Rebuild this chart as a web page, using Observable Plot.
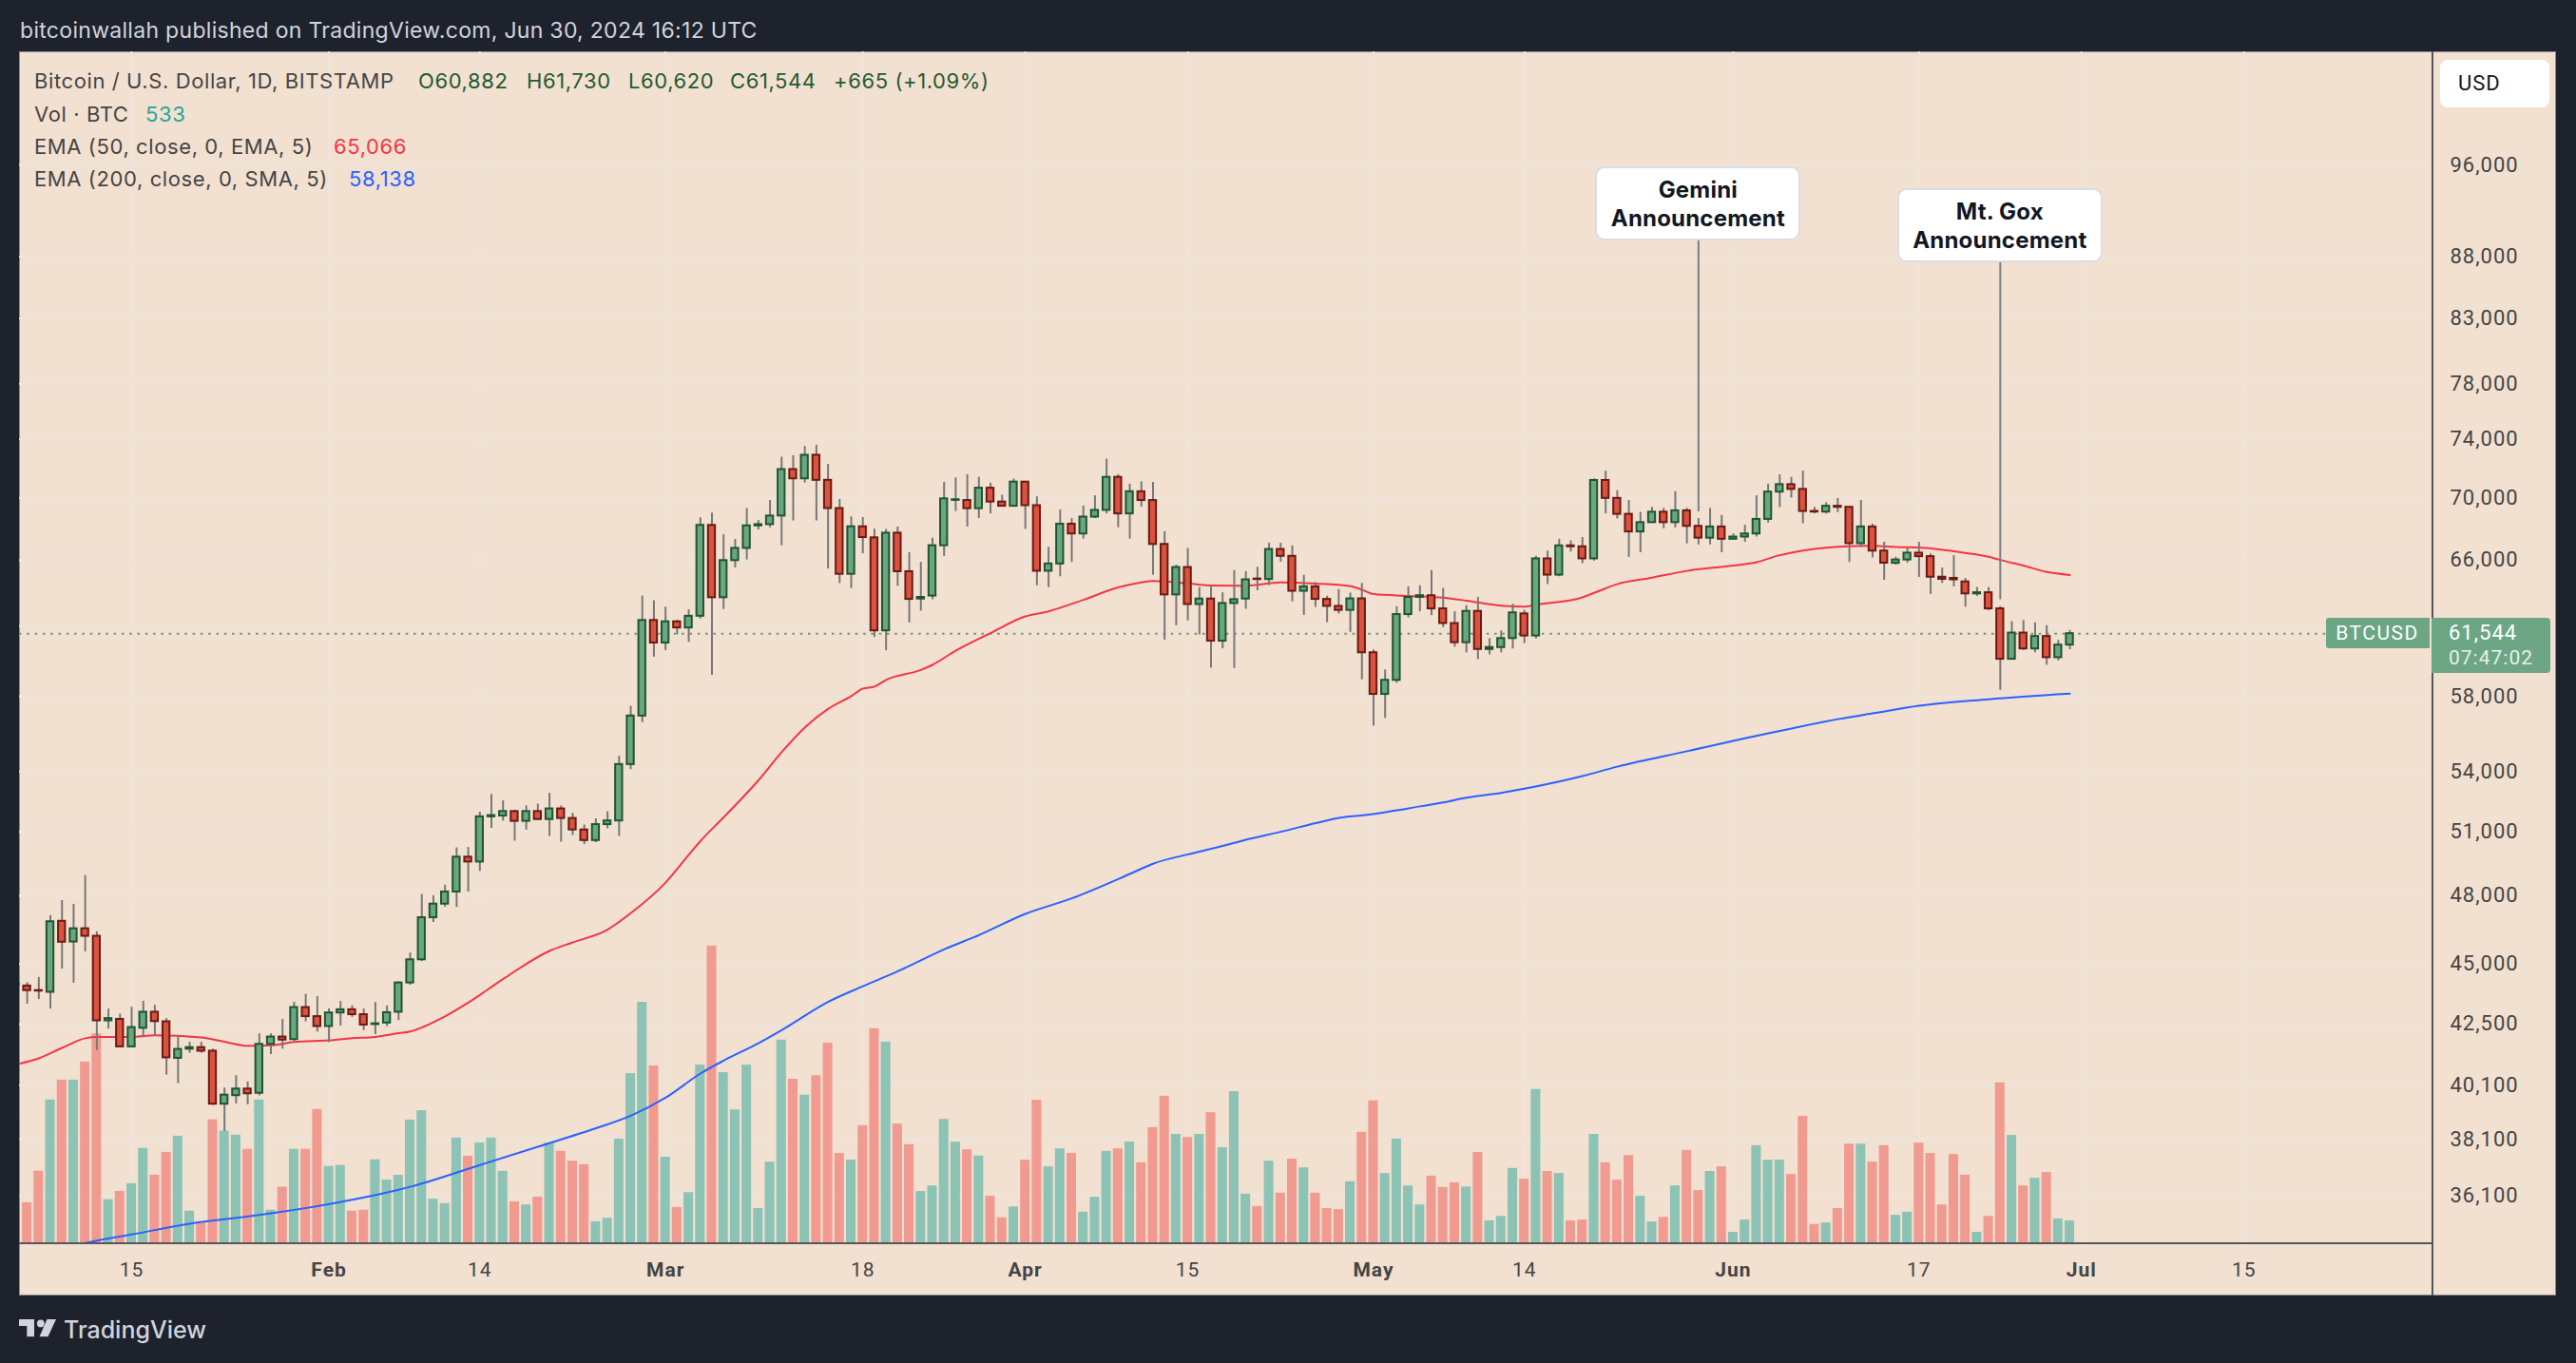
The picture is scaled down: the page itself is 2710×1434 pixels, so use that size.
<!DOCTYPE html>
<html>
<head>
<meta charset="utf-8">
<script src="https://cdn.jsdelivr.net/npm/d3@7"></script>
<script src="https://cdn.jsdelivr.net/npm/@observablehq/plot@0.6"></script>
<style>
  html, body { margin:0; padding:0; background:#1e222d; }
  #page { position:relative; width:2710px; height:1434px; background:#1e222d; overflow:hidden; font-family: Roboto, "Noto Sans", sans-serif; }
  #chart { position:absolute; left:20px; top:54px; width:2669px; height:1309px; background:#f2e0d0; box-shadow: inset 0 0 0 1px #8b8d94; }
  #chart > svg { position:absolute; left:0; top:0; }
  .t { position:absolute; white-space:nowrap; line-height:1; }
  .ybox text { letter-spacing: 1px; }
  .anno { position:absolute; box-sizing:border-box; width:216px; height:78px; background:#ffffff; border:2px solid #dadde4; border-radius:10px;
          font-family: Inter, Roboto, sans-serif; font-weight:700; font-size:24px; color:#131722; text-align:center; line-height:30px; padding-top:8px; letter-spacing:0.2px; }
</style>
</head>
<body>
<div id="page">
  <div id="chart"></div>
</div>
<script>
// ---------------- DATA (BTC/USD daily, Bitstamp) ----------------
const firstDay = "2024-01-05";
const endDay = "2024-07-01"; // exclusive

const open = [
  44150,44060,43870,43800,46850,45940,46520,46190,42630,42690,41590,42330,42980,42590,41140,41500,41560,41420,39390,39710,39960,39800,41690,41980,41880,43170,42800,
  42400,42950,43080,42880,42480,42540,42980,44190,45170,47010,47620,48170,49790,49560,51730,51770,51990,51510,51990,51600,52120,51650,51090,50580,51350,51530,54360,56920,62320,
  61000,62240,61880,62570,68200,63680,65960,66730,68170,68250,68810,71910,71280,72890,71180,69300,65110,68110,67400,61710,67700,65270,63600,63780,66900,69840,69830,69290,70650,69730,69450,
  71060,69490,65300,65750,68280,67650,68740,69180,71380,68950,70410,69830,66980,63850,65530,63270,63600,61110,63330,63600,64820,64790,66660,66230,64070,64340,63580,63160,62920,63610,
  60440,58100,58880,62670,63700,63800,63010,62140,61020,62860,60630,60740,61260,62710,61410,66070,65060,66890,66830,66070,71170,69970,68920,67780,68380,69060,68380,69150,68140,67380,68100,
  67310,67450,67650,68590,70390,70890,70570,69110,69070,69450,69380,67030,68100,66560,65790,66000,66430,66210,64930,64860,64640,63910,63980,63010,60070,61580,60660,61380,60160,60882
];
const high = [
  44300,44200,44420,47100,47780,47610,48930,46390,43110,42900,43180,43430,43260,42720,42020,41770,41770,41500,40000,40470,40230,42110,42110,42690,43390,43720,43620,
  43120,43420,43240,43110,43380,43240,44240,45460,48060,48000,48480,50230,50250,51960,52840,52520,52060,52270,52360,52900,52270,51910,51330,51630,51980,54790,57450,63780,63500,
  63110,62340,62950,68700,69000,67600,67300,69300,68520,69830,72760,72860,73500,73580,72260,69900,68750,68710,67960,67940,68100,66460,65850,67380,71040,71340,71560,71380,70990,70170,71260,
  71100,70070,66790,69200,68640,69460,70140,72620,71560,70920,71080,71040,67790,65680,66730,64290,64420,63980,65340,65280,65550,67050,67050,66890,65050,64610,63770,64170,63960,64550,
  60610,59460,63140,64340,64410,65340,64250,62840,63200,63700,61260,61700,63290,62920,66230,66560,67310,67210,67420,71280,71800,70480,69830,69050,69380,69310,70410,69310,68650,69310,68850,
  67650,68210,70140,70920,71550,71380,71800,69380,69680,69960,69380,69830,68280,67120,66170,66730,67120,66390,65500,66270,64860,64300,64300,63150,62250,62310,62180,62020,61150,61730
];
const low = [
  42700,43310,43500,43110,44780,44180,45510,41440,42300,41580,41580,41950,42020,40490,40170,41340,41340,39340,38380,39400,39370,39700,41290,41500,41760,42590,42180,
  41760,42420,42770,42240,42080,42400,42640,44100,45100,46800,47480,47470,48170,49120,51170,51520,50550,51080,51550,50780,50500,50820,50390,50480,51150,50780,54100,56560,60190,
  60560,61480,61040,62400,59160,62970,65500,66000,67900,68050,66900,68490,71000,68490,65440,64540,64240,66390,61320,60560,64380,62180,62880,63560,66220,69110,68100,68650,68950,69400,69400,
  67940,64410,64300,64960,65850,67320,68650,68950,68050,67320,69400,65050,61170,62010,62290,61470,59570,60670,59550,62990,64100,64420,65860,63440,62620,63100,62190,62700,61620,58910,
  56380,56790,58720,62470,62830,62610,61900,60760,60430,60050,60320,60440,60660,60970,61240,64480,64960,66500,65770,65930,68960,68620,66170,66460,68350,67980,68040,67020,66950,66950,66460,
  67280,67120,67450,68350,69370,69990,68310,68950,68950,69040,65850,66790,66130,64740,65680,65800,64920,63880,64550,64340,63110,63750,62900,58330,60070,60570,60440,59730,59980,60620
];
const close = [
  44100,43870,43850,46830,45930,46520,46190,42630,42720,41590,42360,42980,42600,41160,41490,41560,41420,39390,39730,39960,39780,41690,41980,41860,43170,42800,42400,
  42950,43080,42880,42460,42510,42960,44190,45170,47010,47620,48170,49790,49560,51730,51790,51990,51510,51990,51600,52120,51650,51090,50580,51350,51530,54360,56920,62320,61000,
  62240,61880,62570,68200,63680,65960,66730,68170,68250,68810,71910,71280,72890,71180,69300,65110,68110,67420,61710,67700,65270,63580,63700,66900,69940,69880,69290,70650,69730,69450,71060,
  69490,65300,65750,68280,67650,68740,69180,71380,68950,70410,69830,66980,63850,65530,63270,63600,61110,63330,63560,64770,64790,66660,66230,64070,64340,63580,63160,62920,63610,60440,
  58100,58880,62670,63700,63800,63010,62140,61020,62860,60630,60740,61260,62770,61410,66070,65060,66890,66830,66070,71170,69970,68920,67780,68380,69060,68380,69150,68140,67380,68100,67310,
  67450,67650,68590,70390,70890,70570,69110,69070,69450,69380,67030,68100,66560,65800,66000,66430,66210,64930,64800,64770,63910,63980,63010,60070,61580,60660,61380,60160,60882,61544
];
const volume = [
  3013,957,1694,3357,3821,3821,4242,4902,1028,1223,1403,2227,1601,2133,2511,761,502,2895,2628,2533,2204,3357,784,1319,2204,2204,3137,
  1805,1827,761,784,1960,1487,1598,2888,3106,1039,937,2466,2042,2351,2466,1689,977,906,1090,2351,2156,1927,1845,513,595,2444,3974,5639,4151,
  2020,844,1194,4171,6951,3996,3126,4171,821,1905,4755,3841,3468,3925,4684,2107,1951,2757,5022,4709,2795,2313,1219,1350,2902,2373,2193,2049,1110,604,857,
  1951,3348,1796,2216,2107,737,1086,2156,2216,2373,1891,2711,3443,2553,2482,2553,3059,2240,3552,1157,868,1927,1181,1976,1772,1181,821,797,1447,2602,
  3337,1638,2444,1350,904,1578,1314,1423,1325,2131,533,639,1758,1505,3601,1687,1641,533,555,2553,1891,1483,2060,1110,508,615,1350,2180,1241,1687,1796,
  266,555,2289,1951,1951,1616,2975,448,484,821,2324,2324,1905,2289,664,737,2349,2107,904,2085,1603,266,639,3756,2529,1350,1530,1663,579,533
];

const ema50Dates = ["2024-01-05","2024-01-07","2024-01-09","2024-01-11","2024-01-12","2024-01-15","2024-01-17","2024-01-21","2024-01-23","2024-01-25","2024-01-27","2024-01-29",
  "2024-02-01","2024-02-03","2024-02-05","2024-02-07","2024-02-08","2024-02-11","2024-02-13","2024-02-16","2024-02-20","2024-02-22","2024-02-25","2024-02-27",
  "2024-03-01","2024-03-03","2024-03-04","2024-03-06","2024-03-09","2024-03-11","2024-03-13","2024-03-15","2024-03-17","2024-03-18","2024-03-19","2024-03-20","2024-03-23","2024-03-24","2024-03-26","2024-03-29",
  "2024-04-01","2024-04-03","2024-04-06","2024-04-09","2024-04-11","2024-04-12","2024-04-15","2024-04-17","2024-04-20","2024-04-23","2024-04-26","2024-04-29","2024-04-30",
  "2024-05-01","2024-05-04","2024-05-07","2024-05-09","2024-05-12","2024-05-14","2024-05-15","2024-05-19","2024-05-21","2024-05-22","2024-05-25","2024-05-28",
  "2024-06-01","2024-06-03","2024-06-05","2024-06-06","2024-06-10","2024-06-13","2024-06-15","2024-06-17","2024-06-20","2024-06-23","2024-06-24","2024-06-26","2024-06-28","2024-06-30"];
const ema50Values = [40900,41140,41550,41930,41985,41985,42050,41960,41790,41630,41650,41780,
  41850,41930,41985,42130,42200,42810,43370,44350,45550,45920,46480,47210,
  48600,49900,50550,51700,53550,55000,56300,57300,58000,58420,58530,58900,59460,59750,60560,61580,
  62560,62860,63550,64300,64610,64700,64550,64420,64410,64610,64540,64380,64170,
  63900,63790,63680,63500,63200,63140,63250,63700,64250,64500,64900,65320,
  65650,65860,66300,66460,66830,66890,66820,66790,66540,66200,66000,65650,65250,65066];

const ema200Dates = ["2024-01-10","2024-01-11","2024-01-15","2024-01-20","2024-01-26","2024-01-31","2024-02-07","2024-02-08","2024-02-14","2024-02-19","2024-02-24","2024-02-27",
  "2024-03-01","2024-03-04","2024-03-06","2024-03-09","2024-03-11","2024-03-15","2024-03-18","2024-03-21","2024-03-25","2024-03-28",
  "2024-04-01","2024-04-05","2024-04-10","2024-04-12","2024-04-15","2024-04-18","2024-04-20","2024-04-23","2024-04-26","2024-04-28",
  "2024-05-01","2024-05-04","2024-05-07","2024-05-09","2024-05-12","2024-05-14","2024-05-19","2024-05-22","2024-05-28",
  "2024-06-02","2024-06-05","2024-06-10","2024-06-13","2024-06-17","2024-06-23","2024-06-30"];
const ema200Values = [34420,34520,34810,35170,35460,35760,36320,36420,37180,37830,38500,38960,
  39630,40550,41050,41730,42250,43400,44050,44680,45620,46240,
  47180,47880,49000,49480,49920,50320,50620,51000,51420,51680,
  51860,52150,52440,52680,52920,53130,53770,54250,55050,
  55730,56120,56750,57060,57480,57830,58138];

// price grid levels; the 62,000 label is hidden behind the last-price tag in the original
const priceTicks = [36100,38100,40100,42500,45000,48000,51000,54000,58000,62000,66000,70000,74000,78000,83000,88000,96000];
const hiddenPriceLabels = [62000];
const monthTicks = ["2024-02-01","2024-03-01","2024-04-01","2024-05-01","2024-06-01","2024-07-01"];
const dayTicks = ["2024-01-15","2024-02-14","2024-03-18","2024-04-15","2024-05-14","2024-06-17","2024-07-15"];

const annotationLines = [["Gemini","Announcement"],["Mt. Gox","Announcement"]];
const annotationDates = ["2024-05-29","2024-06-24"];
const annotationAnchor = [69080, 63550];

const legendOHLC = {o: "60,882", h: "61,730", l: "60,620", c: "61,544", chg: "+665 (+1.09%)"};
const legendVol = "533", legendEma50 = "65,066", legendEma200 = "58,138";

// ---------------- BUILD ----------------
const DAY = 864e5;
const shift = (d, k) => new Date(+d + k * DAY);
const days = d3.utcDay.range(new Date(firstDay), new Date(endDay));
const candles = days.map((date, i) => ({date, open: open[i], high: high[i], low: low[i], close: close[i], volume: volume[i]}));
const up = candles.filter(d => d.close >= d.open);
const down = candles.filter(d => d.close < d.open);
const ema50 = ema50Dates.map((d, i) => ({date: new Date(d), value: ema50Values[i]}));
const ema200 = ema200Dates.map((d, i) => ({date: new Date(d), value: ema200Values[i]}));
const lastClose = close[close.length - 1];

const W = 2669, H = 1309, MR = 130, MB = 55;
const ref = Date.UTC(2024, 0, 15);
const xDomain = [new Date(ref - 9.664 * DAY), new Date(ref + 198.28 * DAY)];
const yDomain = [34507, 106871];
const GRID = "#ece5de";
const common = {
  width: W, height: H, marginLeft: 0, marginRight: MR, marginTop: 0, marginBottom: MB,
  style: {background: "transparent", maxWidth: "none", fontFamily: "Roboto, sans-serif", color: "#3f3f3f", overflow: "visible"}
};
const yS = Plot.scale({y: {type: "log", domain: yDomain, range: [H - MB, 0]}});

const boxTops = [175, 198], boxH = 78, chartTop = 54;
const annotations = annotationDates.map((d, i) => ({
  date: new Date(d), anchor: annotationAnchor[i], top: yS.invert(boxTops[i] + boxH - chartTop)
}));

const gridPlot = Plot.plot({
  ...common,
  x: {type: "utc", domain: xDomain, axis: null},
  y: {type: "log", domain: yDomain, axis: null},
  marks: [
    Plot.gridX([...monthTicks, ...dayTicks].map(d => new Date(d)), {stroke: GRID, strokeOpacity: 1, strokeWidth: 2}),
    Plot.gridY(priceTicks, {stroke: GRID, strokeOpacity: 1, strokeWidth: 2}),
    Plot.axisY(priceTicks.filter(v => !hiddenPriceLabels.includes(v)), {anchor: "right", tickSize: 0, tickPadding: 18, tickFormat: d3.format(","), fontSize: 22, textAnchor: "start", label: null, fill: "#444444"}),
    Plot.axisX(dayTicks.map(d => new Date(d)), {tickSize: 0, tickPadding: 20, tickFormat: d => String(d.getUTCDate()), fontSize: 21, label: null, fill: "#444444"}),
    Plot.axisX(monthTicks.map(d => new Date(d)), {tickSize: 0, tickPadding: 20, tickFormat: d3.utcFormat("%b"), fontSize: 21, fontWeight: "bold", label: null, fill: "#444444"})
  ]
});
gridPlot.classList.add("ybox");

const volPlot = Plot.plot({
  ...common,
  x: {type: "utc", domain: xDomain, axis: null},
  y: {domain: [0, 27840], axis: null},
  marks: [
    Plot.rect(up, {x1: d => shift(d.date, -0.41), x2: d => shift(d.date, 0.41), y1: 0, y2: "volume", fill: "#26a69a", fillOpacity: 0.5, clip: true}),
    Plot.rect(down, {x1: d => shift(d.date, -0.41), x2: d => shift(d.date, 0.41), y1: 0, y2: "volume", fill: "#ef5350", fillOpacity: 0.5, clip: true})
  ]
});

const mainPlot = Plot.plot({
  ...common,
  x: {type: "utc", domain: xDomain, axis: null},
  y: {type: "log", domain: yDomain, axis: null},
  marks: [
    Plot.ruleY([lastClose], {stroke: "#5f9d78", strokeWidth: 2, strokeDasharray: "2.5,5.8"}),
    Plot.line(ema200, {x: "date", y: "value", stroke: "#2962ff", strokeWidth: 2, curve: "monotone-x", clip: true}),
    Plot.line(ema50, {x: "date", y: "value", stroke: "#f23645", strokeWidth: 2, curve: "monotone-x", clip: true}),
    Plot.ruleX(annotations, {x: "date", y1: "anchor", y2: "top", stroke: "#7b7e88", strokeWidth: 2}),
    Plot.ruleX(candles, {x: "date", y1: "low", y2: "high", stroke: "#787878", strokeWidth: 2, clip: true}),
    Plot.rect(up, {x1: d => shift(d.date, -0.3), x2: d => shift(d.date, 0.3), y1: "open", y2: "close", fill: "#6aa680", stroke: "#1e5632", strokeWidth: 2, clip: true}),
    Plot.rect(down, {x1: d => shift(d.date, -0.3), x2: d => shift(d.date, 0.3), y1: "open", y2: "close", fill: "#d9533f", stroke: "#6b1a14", strokeWidth: 2, clip: true})
  ]
});

const chart = document.getElementById("chart");
chart.appendChild(gridPlot);
chart.appendChild(volPlot);
chart.appendChild(mainPlot);

// ---------------- CHROME / TEXT ----------------
const page = document.getElementById("page");
function txt(s, x, yc, o = {}) {
  const el = document.createElement("div");
  el.className = "t";
  el.textContent = s;
  el.style.left = x + "px";
  el.style.top = yc + "px";
  el.style.fontSize = (o.size || 22) + "px";
  el.style.color = o.color || "#434343";
  el.style.fontFamily = o.family || "Roboto, sans-serif";
  if (o.weight) el.style.fontWeight = o.weight;
  if (o.ls) el.style.letterSpacing = o.ls;
  el.style.transform = o.center ? "translate(-50%,-50%)" : "translateY(-50%)";
  (o.parent || page).appendChild(el);
  return el;
}
function box(x, y, w, h, bg, extra = {}) {
  const el = document.createElement("div");
  el.style.position = "absolute";
  el.style.left = x + "px"; el.style.top = y + "px";
  el.style.width = w + "px"; el.style.height = h + "px";
  el.style.background = bg;
  Object.assign(el.style, extra);
  page.appendChild(el);
  return el;
}

const UI = "Inter, Roboto, sans-serif";
// header
txt("bitcoinwallah published on TradingView.com, Jun 30, 2024 16:12 UTC", 21, 32, {size: 23, color: "#d1d4dc", family: UI, ls: "0.3px"});

// separators
box(2558, 54, 2, 1309, "#55575c");
box(20, 1307, 2539, 2, "#55575c");

// legend
const GREEN = "#1f5a31", GRAYT = "#454545";
const L = {family: UI, ls: "0.6px"};
txt("Bitcoin / U.S. Dollar, 1D, BITSTAMP", 36, 85, {...L, color: GRAYT});
txt("O" + legendOHLC.o, 440, 85, {...L, color: GREEN});
txt("H" + legendOHLC.h, 554, 85, {...L, color: GREEN});
txt("L" + legendOHLC.l, 661, 85, {...L, color: GREEN});
txt("C" + legendOHLC.c, 768, 85, {...L, color: GREEN});
txt(legendOHLC.chg, 877, 85, {...L, color: GREEN});
txt("Vol · BTC", 36, 120, {...L, color: GRAYT});
txt(legendVol, 153, 120, {...L, color: "#26a69a"});
txt("EMA (50, close, 0, EMA, 5)", 36, 154, {...L, color: GRAYT});
txt(legendEma50, 351, 154, {...L, color: "#f23645"});
txt("EMA (200, close, 0, SMA, 5)", 36, 188, {...L, color: GRAYT});
txt(legendEma200, 367, 188, {...L, color: "#2962ff"});

// USD box
box(2567, 63, 115, 50, "#ffffff", {borderRadius: "8px"});
txt("USD", 2586, 88, {size: 22, color: "#131722", ls: "1px"});

// current price labels
const yc = chartTop + mainPlot.scale("y").apply(lastClose);
box(2447, yc - 16, 109, 32, "#6ca684", {borderRadius: "3px 0 0 3px"});
txt("BTCUSD", 2501, yc, {size: 21, color: "#ffffff", center: true, ls: "1.5px"});
box(2558, yc - 16, 125, 58, "#6ca684", {borderRadius: "0 4px 4px 0"});
txt(d3.format(",")(lastClose), 2576, yc, {size: 22, color: "#ffffff", ls: "1px"});
txt("07:47:02", 2576, yc + 26, {size: 21, color: "#e6f0ea", ls: "1px"});

// annotation boxes
const xs = mainPlot.scale("x");
annotations.forEach((a, i) => {
  const el = document.createElement("div");
  el.className = "anno";
  el.style.left = (20 + xs.apply(a.date) - 108) + "px";
  el.style.top = boxTops[i] + "px";
  el.innerHTML = annotationLines[i].map(s => `<div>${s}</div>`).join("");
  page.appendChild(el);
});

// footer logo
const logo = document.createElementNS("http://www.w3.org/2000/svg", "svg");
logo.setAttribute("width", "42"); logo.setAttribute("height", "20");
logo.style.position = "absolute"; logo.style.left = "20px"; logo.style.top = "1388px";
logo.innerHTML = '<path d="M0 0H16V18.3H8.3V7H0Z" fill="#d1d4dc"/><circle cx="22.8" cy="4.4" r="3.9" fill="#d1d4dc"/><path d="M29.5 0H39L30.5 18.3H21.5Z" fill="#d1d4dc"/>';
page.appendChild(logo);
txt("TradingView", 67, 1399, {size: 25, color: "#d1d4dc", weight: 500, family: UI});
</script>
</body>
</html>
